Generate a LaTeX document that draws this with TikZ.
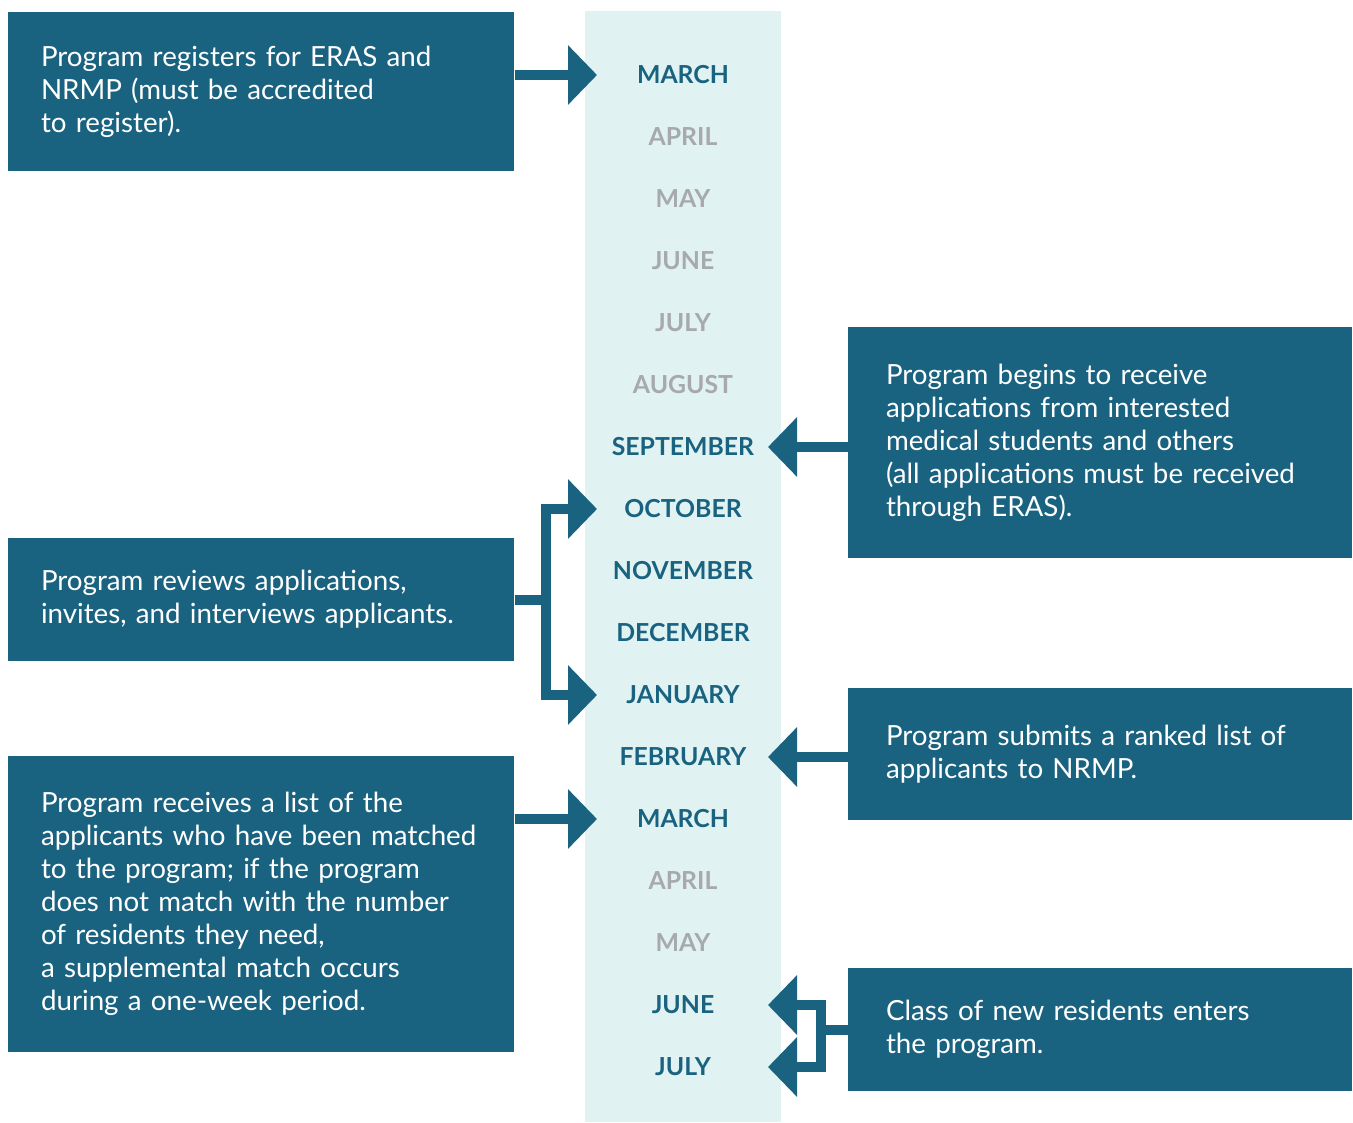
\documentclass[tikz,border=0pt]{standalone}
\usepackage{fontspec}
\setmainfont{Lato}
\usetikzlibrary{arrows.meta}
\definecolor{tealdark}{RGB}{26,99,128}
\definecolor{tealpale}{RGB}{224,242,242}
\definecolor{monthgrey}{RGB}{167,169,172}

\tikzset{every picture/.style={line width=0.75pt}}
\tikzset{
  evbox/.style={fill=tealdark, text=white, align=left, font=\fontsize{20.8}{24.75}\selectfont, inner ysep=0pt},
  leftbox/.style={evbox, minimum width=379.5pt, text width=330pt, inner xsep=24.75pt},
  rightbox/.style={evbox, minimum width=378pt, text width=321pt, inner xsep=28.5pt},
  month/.style={font=\bfseries\fontsize{18.6}{20}\selectfont, text=#1},
  arr/.style={draw=tealdark, line width=7.5pt, -{Triangle[length=21.75pt,width=43.5pt]}},
}

\begin{document}
\begin{tikzpicture}[x=0.75pt,y=0.75pt,yscale=-1,xscale=1]
\useasboundingbox (0,0) rectangle (1353,1122);

%Shape: Rectangle [month column]
\node[fill=tealpale, minimum width=147pt, minimum height=833.25pt, inner sep=0pt] (col) at (683,566.5) {};

% Text Node [months]
\foreach \m/\c [count=\i] in {MARCH/tealdark, APRIL/monthgrey, MAY/monthgrey, JUNE/monthgrey, JULY/monthgrey, AUGUST/monthgrey, SEPTEMBER/tealdark, OCTOBER/tealdark, NOVEMBER/tealdark, DECEMBER/tealdark, JANUARY/tealdark, FEBRUARY/tealdark, MARCH/tealdark, APRIL/monthgrey, MAY/monthgrey, JUNE/tealdark, JULY/tealdark}
  \node[month=\c] (m\i) at (683,{75+62*(\i-1)}) {\m};

% arrow tips, left and right of the column
\coordinate (lt) at (597,0);
\coordinate (rt) at (768,0);

%Shape: Rectangle [boxes]
\node[leftbox, minimum height=119.25pt] (regist) at (261,91.5) {Program registers for ERAS and\\NRMP (must be accredited\\to register).};
\node[rightbox, minimum height=173.25pt] (apps) at (1100,442.5) {Program begins to receive\\applications from interested\\medical students and others\\(all applications must be received\\through ERAS).};
\node[leftbox, minimum height=92.25pt] (review) at (261,599.5) {Program reviews applications,\\invites, and interviews applicants.};
\node[rightbox, minimum height=99pt] (rank) at (1100,754) {Program submits a ranked list of\\applicants to NRMP.};
\node[leftbox, minimum height=222pt] (match) at (261,904) {Program receives a list of the\\applicants who have been matched\\to the program; if the program\\does not match with the number\\of residents they need,\\a supplemental match occurs\\during a one-week period.};
\node[rightbox, minimum height=92.25pt] (enter) at (1100,1029.5) {Class of new residents enters\\the program.};

%Straight Lines [arrows]
\draw[arr] (regist.east |- m1) -- (m1 -| lt);
\draw[arr] (apps.west |- m7) -- (m7 -| rt);
\draw[arr] (review.east) -- ++(31,0) |- (m8 -| lt);
\draw[arr] (review.east) -- ++(31,0) |- (m11 -| lt);
\draw[arr] (rank.west |- m12) -- (m12 -| rt);
\draw[arr] (match.east |- m13) -- (m13 -| lt);
\draw[arr] (enter.west) -- ++(-27,0) |- (m16 -| rt);
\draw[arr] (enter.west) -- ++(-27,0) |- (m17 -| rt);

\end{tikzpicture}
\end{document}
